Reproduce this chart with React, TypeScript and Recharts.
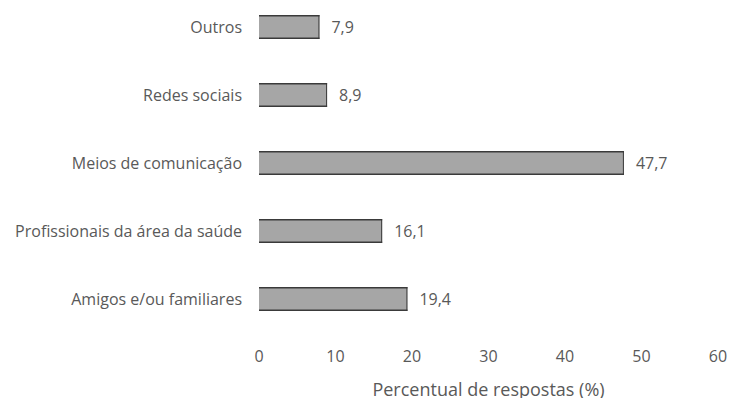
import React from "react";
import { BarChart, Bar, XAxis, YAxis, LabelList, Label } from "recharts";

// Fontes de informação citadas pelos respondentes
const categorias = [
  "Outros",
  "Redes sociais",
  "Meios de comunicação",
  "Profissionais da área da saúde",
  "Amigos e/ou familiares",
];
const percentuais = [7.9, 8.9, 47.7, 16.1, 19.4];
const ticksX = [0, 10, 20, 30, 40, 50, 60];

const dados = categorias.map((nome, i) => ({ nome, valor: percentuais[i] }));

const TEXTO = "#595959";
const FONTE = "'Open Sans', 'Liberation Sans', sans-serif";

// Barra cinza com bordas escuras em cima, embaixo e à direita
const BarraContornada = (props: any) => {
  const { x, y, width, height } = props;
  if (width <= 0) return null;
  return (
    <g>
      <rect x={x} y={y} width={width} height={height} fill="#a6a6a6" />
      <line x1={x} y1={y + 0.75} x2={x + width} y2={y + 0.75} stroke="#3a3a3a" strokeWidth={1.5} />
      <line x1={x} y1={y + height - 0.75} x2={x + width} y2={y + height - 0.75} stroke="#3a3a3a" strokeWidth={1.5} />
      <line x1={x + width - 0.5} y1={y} x2={x + width - 0.5} y2={y + height} stroke="#3a3a3a" strokeWidth={1} />
    </g>
  );
};

export default function App() {
  return (
    <div style={{ position: "absolute", left: 0, top: -7, background: "#fff" }}>
      <BarChart
        width={731}
        height={405}
        data={dados}
        layout="vertical"
        margin={{ top: 0, right: 13, bottom: 0, left: 0 }}
        style={{ fontFamily: FONTE }}
      >
        <XAxis
          type="number"
          domain={[0, 60]}
          ticks={ticksX}
          axisLine={false}
          tickLine={false}
          tickSize={0}
          tickMargin={18}
          height={65}
          tick={{ fill: TEXTO, fontSize: 16, fontFamily: FONTE }}
        >
          <Label
            value="Percentual de respostas (%)"
            position="insideBottom"
            offset={2}
            style={{ fill: TEXTO, fontSize: 18, fontFamily: FONTE }}
          />
        </XAxis>
        <YAxis
          type="category"
          dataKey="nome"
          width={259}
          axisLine={false}
          tickLine={false}
          tickSize={0}
          tickMargin={17}
          tick={{ fill: TEXTO, fontSize: 16, fontFamily: FONTE }}
        />
        <Bar dataKey="valor" barSize={24} shape={<BarraContornada />} isAnimationActive={false}>
          <LabelList
            dataKey="valor"
            position="right"
            offset={12}
            formatter={(v: any) => String(v).replace(".", ",")}
            style={{ fill: TEXTO, fontSize: 16, fontFamily: FONTE }}
          />
        </Bar>
      </BarChart>
    </div>
  );
}
